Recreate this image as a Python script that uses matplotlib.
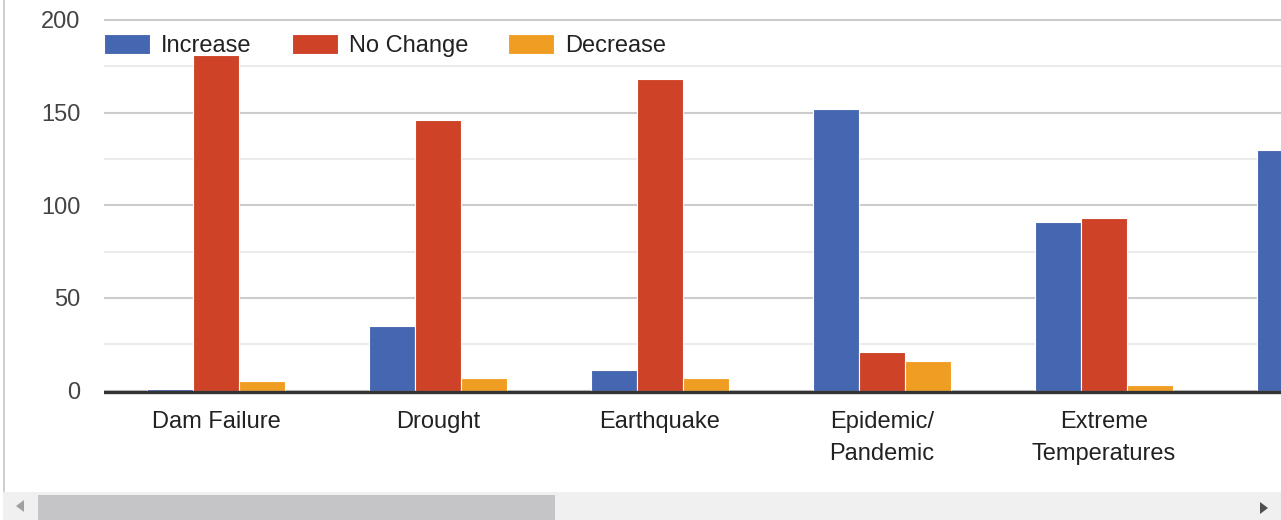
import numpy as np
import matplotlib
matplotlib.use('Agg')
from matplotlib import pyplot as plt, patches

plt.rcParams['font.family'] = ['Liberation Sans', 'DejaVu Sans']

categories = ['Dam Failure', 'Drought', 'Earthquake', 'Epidemic/\nPandemic',
              'Extreme\nTemperatures', 'Flood']
increase = [1, 35, 11, 152, 91, 130]
no_change = [181, 146, 168, 21, 93, np.nan]
decrease = [5, 7, 7, 16, 3, np.nan]
series = [('Increase', increase, '#4567b1'),
          ('No Change', no_change, '#ce4227'),
          ('Decrease', decrease, '#f09e23')]

W, H = 1281, 520
fig = plt.figure(figsize=(W/100, H/100), dpi=100)

# pixel layout of the plot area
px_per = 370.5/200.0
y0_px = 390.5
ylo, yhi = -3, 205
x_left = 104
spacing = 222.0
c0 = 216.0
bot_px = y0_px - ylo*px_per
top_px = y0_px - yhi*px_per
ax = fig.add_axes([x_left/W, 1 - bot_px/H, 1 - x_left/W, (bot_px - top_px)/H])

x = np.arange(len(categories))
step = 46/spacing
for i, (name, vals, col) in enumerate(series):
    ax.bar(x + (i - 1)*step, vals, width=step, color=col, edgecolor='white',
           linewidth=0.8, label=name, zorder=3)

ax.set_yticks([0, 50, 100, 150, 200])
ax.set_yticks([25, 75, 125, 175], minor=True)
ax.grid(axis='y', which='major', color='#cccccc', lw=1.5, zorder=0)
ax.grid(axis='y', which='minor', color='#ebebeb', lw=1.5, zorder=0)
ax.axhline(-0.9, color='#333333', lw=2.4, zorder=4)
for s in ax.spines.values():
    s.set_visible(False)
ax.tick_params(axis='both', which='both', length=0, labelsize=17, colors='#444444')
ax.tick_params(axis='y', pad=17)
ax.tick_params(axis='x', pad=10.5)
ax.set_xticks(x)
ax.set_xticklabels(categories, linespacing=1.6, color='#222222')
for t in ax.get_xticklabels():
    t.set_verticalalignment('top')
ax.set_ylim(ylo, yhi)
ax.set_xlim((x_left - c0)/spacing, (W - c0)/spacing)

leg = ax.legend(loc='upper left', bbox_to_anchor=(104/W, 1 - 34/H),
                bbox_transform=fig.transFigure, ncol=3, frameon=False,
                fontsize=17, handlelength=1.95, handleheight=0.93,
                handletextpad=0.47, columnspacing=1.7, borderaxespad=0,
                borderpad=0)
for t in leg.get_texts():
    t.set_color('#222222')

# container border and scrollbar
fig.add_artist(patches.Rectangle((3/W, 0), 1.5/W, 1, transform=fig.transFigure,
                                 color='#d0d0d0', lw=0))
fig.add_artist(patches.Rectangle((3/W, 0), 1 - 3/W, 28/H, transform=fig.transFigure,
                                 color='#f0f0f0', lw=0))
fig.add_artist(patches.Rectangle((38/W, 0), 517/W, 25/H, transform=fig.transFigure,
                                 color='#c5c5c7', lw=0))
fig.add_artist(patches.Polygon([(16/W, 14/H), (24/W, 20/H), (24/W, 8/H)],
                               transform=fig.transFigure, color='#a0a0a0', lw=0))
fig.add_artist(patches.Polygon([(1268/W, 12/H), (1260/W, 18/H), (1260/W, 6/H)],
                               transform=fig.transFigure, color='#505050', lw=0))

fig.savefig('out.png', dpi=100)
